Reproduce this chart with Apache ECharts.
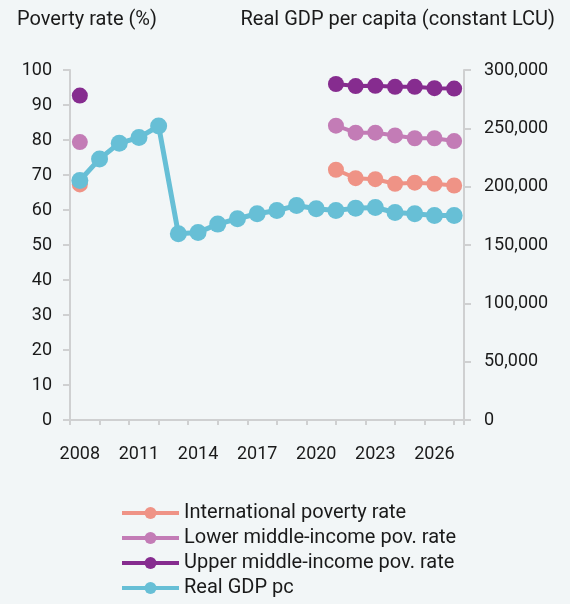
<!DOCTYPE html>
<html>
<head>
<meta charset="utf-8">
<script src="https://cdn.jsdelivr.net/npm/echarts@6/dist/echarts.min.js"></script>
<style>
  html, body { margin: 0; padding: 0; background: #f2f6f7; }
  #chart { width: 570px; height: 604px; }
</style>
</head>
<body>
<div id="chart"></div>
<script>
// Years on the category axis
const years = [2008, 2009, 2010, 2011, 2012, 2013, 2014, 2015, 2016, 2017,
               2018, 2019, 2020, 2021, 2022, 2023, 2024, 2025, 2026, 2027];

// Poverty rates (%), left axis
const intlPoverty = [67.3, null, null, null, null, null, null, null, null, null,
                     null, null, null, 71.5, 69.1, 68.8, 67.5, 67.8, 67.5, 67.0];
const lowerMidPoverty = [79.4, null, null, null, null, null, null, null, null, null,
                         null, null, null, 84.1, 82.1, 82.1, 81.3, 80.5, 80.5, 79.7];
const upperMidPoverty = [92.7, null, null, null, null, null, null, null, null, null,
                         null, null, null, 96.0, 95.4, 95.5, 95.2, 95.2, 94.8, 94.7];

// Real GDP per capita (constant LCU), right axis
const realGdpPc = [205300, 223800, 237300, 242100, 252000, 159600, 160700, 167900, 172500, 176800,
                   179600, 183800, 181000, 179600, 181600, 182100, 177900, 176800, 175300, 175300];

const axisGray = '#cfd0d1';
const textColor = '#1a1a1a';
const fontFamily = 'Roboto, "Noto Sans", sans-serif';

const chart = echarts.init(document.getElementById('chart'));

chart.setOption({
  backgroundColor: '#f2f6f7',
  animation: false,
  textStyle: { fontFamily: fontFamily, color: textColor },
  title: [
    { text: 'Poverty rate (%)', left: 12, top: 5,
      textStyle: { fontSize: 20, fontWeight: 'normal', color: textColor, fontFamily: fontFamily } },
    { text: 'Real GDP per capita (constant LCU)', right: 10, top: 5,
      textStyle: { fontSize: 20, fontWeight: 'normal', color: textColor, fontFamily: fontFamily } }
  ],
  grid: { left: 70, right: 106, top: 70, bottom: 184 },
  legend: {
    orient: 'vertical',
    left: 120,
    top: 503,
    padding: 0,
    itemWidth: 57,
    itemHeight: 15,
    itemGap: 5,
    itemTextGap: 3,
    lineStyle: { width: 4 },
    textStyle: { fontSize: 20, color: textColor, fontFamily: fontFamily },
    data: ['International poverty rate', 'Lower middle-income pov. rate',
           'Upper middle-income pov. rate', 'Real GDP pc']
  },
  xAxis: [
    {
      type: 'category',
      data: years,
      position: 'bottom',
      boundaryGap: true,
      axisLine: { show: false },
      axisTick: { show: false },
      axisLabel: { interval: 2, margin: 25, fontSize: 18, color: textColor, fontFamily: fontFamily },
      splitLine: { show: false }
    },
    {
      // tick-only axis spanning the 20 category slots
      type: 'value',
      position: 'bottom',
      min: 0,
      max: 20,
      interval: 1.5,
      axisLine: { show: true, onZero: false, lineStyle: { color: axisGray, width: 2 } },
      axisTick: { show: true, length: 5, lineStyle: { color: axisGray, width: 2 } },
      axisLabel: { show: false },
      splitLine: { show: false }
    }
  ],
  yAxis: [
    {
      type: 'value',
      position: 'left',
      min: 0,
      max: 100,
      interval: 10,
      axisLine: { show: true, lineStyle: { color: axisGray, width: 2 } },
      axisTick: { show: true, length: 7, lineStyle: { color: axisGray, width: 2 } },
      axisLabel: { margin: 18, fontSize: 18, color: textColor, fontFamily: fontFamily },
      splitLine: { show: false }
    },
    {
      type: 'value',
      position: 'right',
      min: 0,
      max: 300000,
      interval: 50000,
      axisLine: { show: true, lineStyle: { color: axisGray, width: 2 } },
      axisTick: { show: true, length: 7, lineStyle: { color: axisGray, width: 2 } },
      axisLabel: { margin: 20, fontSize: 18, color: textColor, fontFamily: fontFamily },
      splitLine: { show: false }
    }
  ],
  series: [
    {
      name: 'International poverty rate',
      type: 'line',
      xAxisIndex: 0, yAxisIndex: 0,
      data: intlPoverty,
      showAllSymbol: true,
      symbol: 'circle', symbolSize: 16,
      lineStyle: { color: '#ef9386', width: 4 },
      itemStyle: { color: '#ef9386' }
    },
    {
      name: 'Lower middle-income pov. rate',
      type: 'line',
      xAxisIndex: 0, yAxisIndex: 0,
      data: lowerMidPoverty,
      showAllSymbol: true,
      symbol: 'circle', symbolSize: 16,
      lineStyle: { color: '#c37cb6', width: 4 },
      itemStyle: { color: '#c37cb6' }
    },
    {
      name: 'Upper middle-income pov. rate',
      type: 'line',
      xAxisIndex: 0, yAxisIndex: 0,
      data: upperMidPoverty,
      showAllSymbol: true,
      symbol: 'circle', symbolSize: 16,
      lineStyle: { color: '#862c8f', width: 4 },
      itemStyle: { color: '#862c8f' }
    },
    {
      name: 'Real GDP pc',
      type: 'line',
      xAxisIndex: 0, yAxisIndex: 1,
      data: realGdpPc,
      showAllSymbol: true,
      symbol: 'circle', symbolSize: 17,
      lineStyle: { color: '#67bfd6', width: 5 },
      itemStyle: { color: '#67bfd6' }
    }
  ]
});
</script>
</body>
</html>
